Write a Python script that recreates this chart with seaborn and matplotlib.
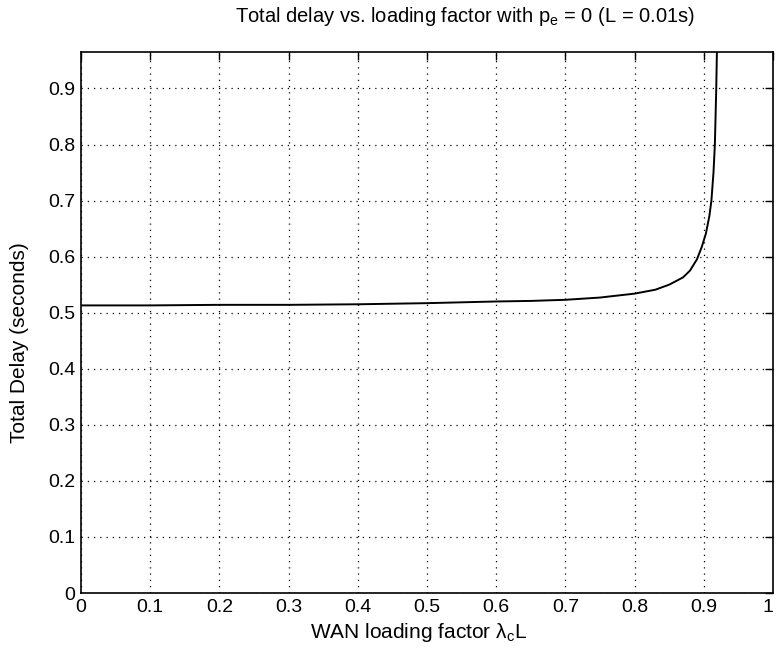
import matplotlib
matplotlib.use("Agg")
import matplotlib.pyplot as plt
import seaborn as sns
import pandas as pd

# data
load_factor = [0.0, 0.1, 0.2, 0.3, 0.4, 0.5, 0.6, 0.65, 0.7, 0.75, 0.8, 0.83,
               0.85, 0.87, 0.88, 0.89, 0.897, 0.903, 0.908, 0.911, 0.914,
               0.916, 0.917, 0.918, 0.919]
total_delay = [0.513, 0.513, 0.514, 0.514, 0.515, 0.517, 0.520, 0.521, 0.523,
               0.527, 0.534, 0.541, 0.550, 0.563, 0.575, 0.595, 0.617, 0.641,
               0.672, 0.700, 0.750, 0.800, 0.850, 0.900, 0.970]
x_ticks = [0, 0.1, 0.2, 0.3, 0.4, 0.5, 0.6, 0.7, 0.8, 0.9, 1]
y_ticks = [0, 0.1, 0.2, 0.3, 0.4, 0.5, 0.6, 0.7, 0.8, 0.9]
x_tick_labels = ["0", "0.1", "0.2", "0.3", "0.4", "0.5", "0.6", "0.7", "0.8", "0.9", "1"]
y_tick_labels = ["0", "0.1", "0.2", "0.3", "0.4", "0.5", "0.6", "0.7", "0.8", "0.9"]

df = pd.DataFrame({"load": load_factor, "delay": total_delay})

sns.set_theme(style="white")
plt.rcParams["font.family"] = ["Liberation Sans", "DejaVu Sans"]
plt.rcParams["mathtext.fontset"] = "custom"
plt.rcParams["mathtext.rm"] = "Liberation Sans"

fig = plt.figure(figsize=(7.76, 6.55), dpi=100)
ax = fig.add_axes([81 / 776, 1 - 593 / 655, (773 - 81) / 776, (593 - 52) / 655])

sns.lineplot(data=df, x="load", y="delay", ax=ax, color="black", linewidth=1.4,
             estimator=None, sort=False)

ax.set_xlim(0, 1)
ax.set_ylim(0, 0.965)
ax.set_xticks(x_ticks)
ax.set_xticklabels(x_tick_labels)
ax.set_yticks(y_ticks)
ax.set_yticklabels(y_tick_labels)
ax.grid(True, linestyle=(0, (1, 4)), color="black", linewidth=0.9)
ax.tick_params(direction="in", top=True, right=True, length=6, width=1,
               labelsize=14, colors="black", pad=4)
ax.get_xticklabels()[-1].set_horizontalalignment("right")
for s in ax.spines.values():
    s.set_color("black")
    s.set_linewidth(1.2)
ax.set_xlabel("")
ax.set_ylabel("")

fig.text(465 / 776, 1 - 16 / 655,
         r"Total delay vs. loading factor with p$_\mathregular{e}$ = 0 (L = 0.01s)",
         ha="center", va="center", fontsize=14.5, color="black")
fig.text(419 / 776, 1 - 633 / 655, r"WAN loading factor $\mathregular{\lambda_c}$L",
         ha="center", va="center", fontsize=15, color="black")
fig.text(20 / 776, 1 - 343 / 655, "Total Delay (seconds)", rotation=90,
         ha="center", va="center", fontsize=15, color="black")

fig.savefig("out.png", dpi=100)
